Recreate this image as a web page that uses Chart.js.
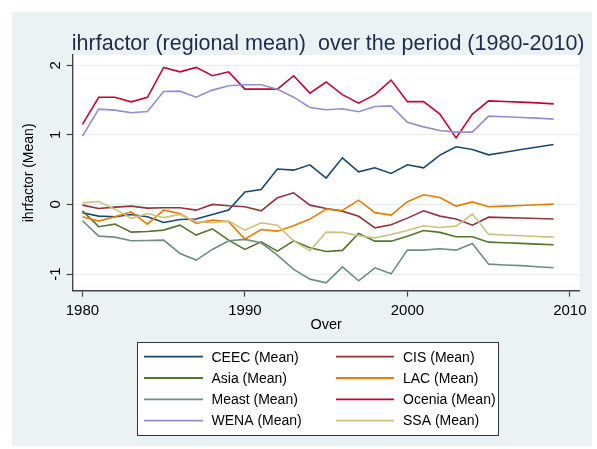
<!DOCTYPE html>
<html>
<head>
<meta charset="utf-8">
<script src="https://cdn.jsdelivr.net/npm/chart.js@4"></script>
<style>
  html, body { margin: 0; padding: 0; background: #ffffff; }
  #wrap { width: 597px; height: 449px; }
</style>
</head>
<body>
<div id="wrap"><canvas id="c" width="597" height="449"></canvas></div>
<script>
// ---------- data ----------
const years = [1980,1981,1982,1983,1984,1985,1986,1987,1988,1989,
               1990,1991,1992,1993,1994,1995,1996,1997,1998,1999,
               2000,2001,2002,2003,2004,2005,2006,2007,2008,2009];

const seriesNames = ['CEEC (Mean)','CIS (Mean)','Asia (Mean)','LAC (Mean)',
                     'Meast (Mean)','Ocenia (Mean)','WENA (Mean)','SSA (Mean)'];

const ceec   = [-0.12,-0.168,-0.178,-0.144,-0.178,-0.26,-0.216,-0.21,-0.144,-0.082,
                0.18,0.215,0.51,0.493,0.57,0.38,0.67,0.469,0.526,0.446,
                0.57,0.526,0.709,0.828,0.79,0.713,0.75,0.79,0.825,0.862];
const cis    = [-0.01,-0.058,-0.039,-0.024,-0.053,-0.048,-0.048,-0.082,0.0,-0.02,
                -0.034,-0.092,0.095,0.167,-0.01,-0.058,-0.096,-0.17,-0.336,-0.293,
                -0.197,-0.092,-0.168,-0.21,-0.298,-0.183,-0.19,-0.196,-0.203,-0.21];
const asia   = [-0.092,-0.32,-0.283,-0.398,-0.388,-0.369,-0.298,-0.441,-0.35,-0.513,
                -0.647,-0.537,-0.671,-0.523,-0.624,-0.676,-0.661,-0.417,-0.528,-0.528,
                -0.456,-0.374,-0.402,-0.465,-0.465,-0.542,-0.55,-0.56,-0.57,-0.58];
const lac    = [-0.178,-0.24,-0.178,-0.106,-0.283,-0.082,-0.13,-0.273,-0.226,-0.25,
                -0.499,-0.36,-0.384,-0.307,-0.211,-0.068,-0.087,0.062,-0.118,-0.154,
                0.04,0.138,0.1,-0.024,0.037,-0.034,-0.025,-0.015,-0.005,0.004];
const meast  = [-0.235,-0.456,-0.47,-0.523,-0.518,-0.513,-0.705,-0.8,-0.647,-0.523,
                -0.503,-0.552,-0.729,-0.934,-1.074,-1.127,-0.897,-1.098,-0.911,-0.998,
                -0.657,-0.657,-0.638,-0.657,-0.561,-0.858,-0.87,-0.88,-0.895,-0.911];
const ocenia = [1.15,1.54,1.54,1.475,1.54,1.97,1.906,1.97,1.85,1.906,
                1.657,1.657,1.657,1.85,1.60,1.76,1.578,1.456,1.578,1.787,
                1.478,1.478,1.298,0.957,1.298,1.488,1.48,1.47,1.46,1.446];
const wena   = [0.982,1.37,1.355,1.317,1.336,1.624,1.628,1.542,1.643,1.705,
                1.72,1.72,1.657,1.542,1.394,1.36,1.375,1.333,1.408,1.416,
                1.18,1.115,1.063,1.04,1.04,1.27,1.26,1.25,1.24,1.226];
const ssa    = [0.023,0.043,-0.068,-0.2,-0.13,-0.19,-0.144,-0.25,-0.264,-0.24,
                -0.37,-0.264,-0.298,-0.523,-0.667,-0.398,-0.402,-0.451,-0.48,-0.431,
                -0.374,-0.307,-0.331,-0.312,-0.139,-0.427,-0.44,-0.45,-0.46,-0.47];

const xTickValues = [1980, 1990, 2000, 2010];
const xTickLabels = ['1980', '1990', '2000', '2010'];
const yTickValues = [-1, 0, 1, 2];
const yTickLabels = ['-1', '0', '1', '2'];

const titleText = 'ihrfactor (regional mean)  over the period (1980-2010)';
const xTitle = 'Over';
const yTitle = 'ihrfactor (Mean)';

// ---------- styles ----------
const colors = ['#1a476f','#90353b','#55752f','#e37e00','#6e8e84','#c10534','#938dd2','#cac27e'];
const FONT = "'Liberation Sans', Arial, Helvetica, sans-serif";
const allSeries = [ceec, cis, asia, lac, meast, ocenia, wena, ssa];

const datasets = allSeries.map((vals, i) => ({
  label: seriesNames[i],
  data: years.map((yr, k) => ({ x: yr, y: vals[k] })),
  borderColor: colors[i],
  backgroundColor: colors[i],
  borderWidth: 1.6,
  pointRadius: 0,
  tension: 0,
  fill: false,
  order: -i
}));

const decor = {
  id: 'decor',
  beforeDraw(chart) {
    const ctx = chart.ctx;
    const a = chart.chartArea;
    ctx.save();
    ctx.fillStyle = '#ffffff';
    ctx.fillRect(0, 0, chart.width, chart.height);
    ctx.fillStyle = '#eaf2f3';
    ctx.fillRect(12, 12, 580, 434);
    ctx.fillStyle = '#ffffff';
    ctx.fillRect(a.left, a.top, a.right - a.left, a.bottom - a.top);
    ctx.restore();
  },
  afterDraw(chart) {
    const ctx = chart.ctx;
    const a = chart.chartArea;
    const ys = chart.scales.y;
    ctx.save();
    // title
    ctx.fillStyle = '#1f2b4a';
    ctx.font = '21.5px ' + FONT;
    ctx.textAlign = 'center';
    ctx.textBaseline = 'alphabetic';
    ctx.fillText(titleText, (a.left + a.right) / 2 + 2, 49.5);
    // rotated y tick labels
    ctx.fillStyle = '#000000';
    ctx.font = '15px ' + FONT;
    yTickValues.forEach((v, i) => {
      const py = ys.getPixelForValue(v);
      ctx.save();
      ctx.translate(60, py);
      ctx.rotate(-Math.PI / 2);
      ctx.textAlign = 'center';
      ctx.textBaseline = 'alphabetic';
      ctx.fillText(yTickLabels[i], 0, 0);
      ctx.restore();
    });
    // legend
    const bx = 137.5, by = 342.5, bw = 361, bh = 93;
    ctx.fillStyle = '#ffffff';
    ctx.fillRect(bx, by, bw, bh);
    ctx.strokeStyle = '#333333';
    ctx.lineWidth = 1;
    ctx.strokeRect(bx, by, bw, bh);
    ctx.font = '14px ' + FONT;
    ctx.textAlign = 'left';
    ctx.textBaseline = 'middle';
    chart.data.datasets.forEach((ds, i) => {
      const col = i % 2, row = Math.floor(i / 2);
      const ly = 356.7 + row * 21.3;
      const x0 = col === 0 ? 144 : 336;
      const x1 = col === 0 ? 203 : 394;
      const tx = col === 0 ? 211.5 : 403;
      ctx.strokeStyle = ds.borderColor;
      ctx.lineWidth = 1.8;
      ctx.beginPath();
      ctx.moveTo(x0, ly);
      ctx.lineTo(x1, ly);
      ctx.stroke();
      ctx.fillStyle = '#000000';
      ctx.fillText(ds.label, tx, ly + 1);
    });
    ctx.restore();
  }
};

new Chart(document.getElementById('c'), {
  type: 'line',
  data: { datasets },
  options: {
    responsive: false,
    animation: false,
    devicePixelRatio: 1,
    layout: { padding: { top: 55, left: 0, right: 17.4, bottom: 115.3 } },
    plugins: { legend: { display: false }, title: { display: false }, tooltip: { enabled: false } },
    scales: {
      x: {
        type: 'linear',
        min: 1979.4,
        max: 2010.6,
        afterBuildTicks: s => { s.ticks = xTickValues.map(v => ({ value: v })); },
        afterFit: s => { s.height = 43; },
        grid: { display: true, drawOnChartArea: false, drawTicks: true, tickLength: 6, tickColor: '#444444', tickWidth: 1.2 },
        border: { display: true, color: '#444444', width: 1.4 },
        ticks: {
          autoSkip: false, maxRotation: 0, minRotation: 0, padding: 5,
          color: '#000000', font: { family: FONT, size: 15 },
          callback: (v) => { const k = xTickValues.indexOf(v); return k >= 0 ? xTickLabels[k] : ''; }
        },
        title: { display: true, text: xTitle, color: '#000000', font: { family: FONT, size: 14.5 }, padding: { top: 0, bottom: 0 } }
      },
      y: {
        type: 'linear',
        min: -1.24,
        max: 2.148,
        afterBuildTicks: s => { s.ticks = yTickValues.map(v => ({ value: v })); },
        afterFit: s => { s.width = 72.7; },
        grid: { display: true, drawOnChartArea: true, color: '#e3ecef', lineWidth: 1, drawTicks: true, tickLength: 6, tickColor: '#444444', tickWidth: 1.2 },
        border: { display: true, color: '#444444', width: 1.4 },
        ticks: { display: false },
        title: { display: true, text: yTitle, color: '#000000', font: { family: FONT, size: 14 }, padding: { top: 21, bottom: 0 } }
      }
    }
  },
  plugins: [decor]
});
</script>
</body>
</html>
